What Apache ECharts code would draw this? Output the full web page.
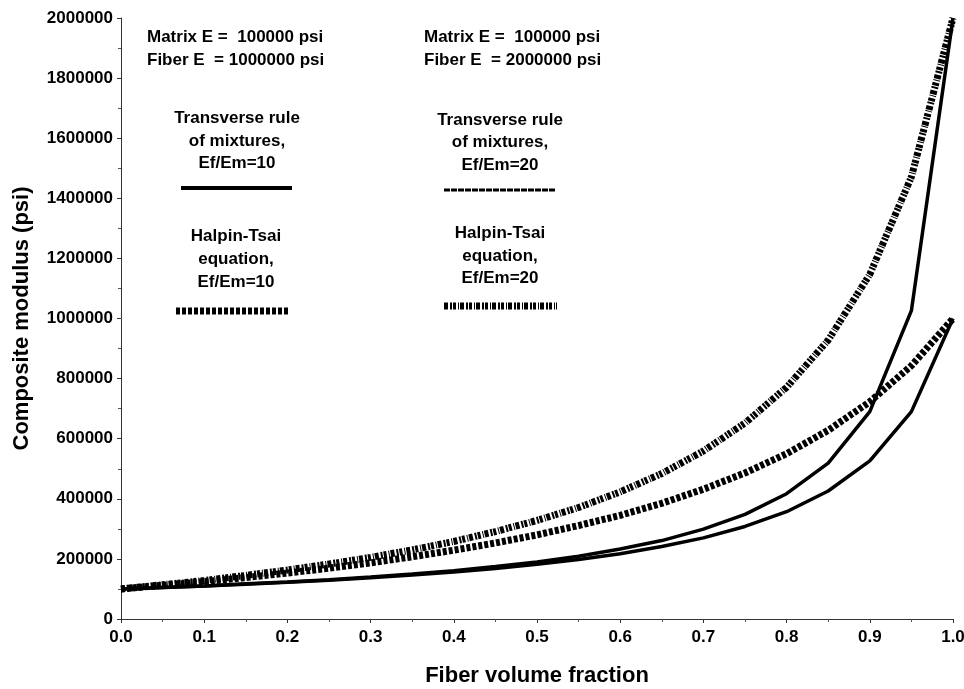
<!DOCTYPE html>
<html>
<head>
<meta charset="utf-8">
<script src="https://cdn.jsdelivr.net/npm/echarts@6/dist/echarts.min.js"></script>
<style>
  html, body { margin: 0; padding: 0; background: #fff; }
  #chart { width: 964px; height: 689px; }
</style>
</head>
<body>
<div id="chart"></div>
<script>
// fiber volume fraction
var vf = [0, 0.05, 0.1, 0.15, 0.2, 0.25, 0.3, 0.35, 0.4, 0.45, 0.5,
          0.55, 0.6, 0.65, 0.7, 0.75, 0.8, 0.85, 0.9, 0.95, 1.0];
// transverse rule of mixtures
var rom10 = [100000, 105000, 110000, 116000, 122000, 129000, 137000, 146000, 156000, 168000, 182000,
             198000, 217000, 241000, 270000, 308000, 357000, 426000, 526000, 690000, 1000000];
var rom20 = [100000, 105000, 110000, 117000, 123000, 131000, 140000, 150000, 161000, 175000, 190000,
             209000, 233000, 261000, 299000, 348000, 417000, 519000, 690000, 1026000, 2000000];
// halpin-tsai
var ht10 = [100000, 112000, 124000, 138000, 153000, 169000, 187000, 207000, 229000, 253000, 280000,
            311000, 345000, 385000, 432000, 486000, 550000, 628000, 723000, 843000, 1000000];
var ht20 = [100000, 114000, 128000, 145000, 163000, 183000, 205000, 230000, 258000, 291000, 328000,
            371000, 423000, 484000, 559000, 652000, 771000, 928000, 1147000, 1471000, 2000000];

var noteLeft = ['Matrix E =  100000 psi', 'Fiber E  = 1000000 psi'];
var noteRight = ['Matrix E =  100000 psi', 'Fiber E  = 2000000 psi'];

var FONT = '"Liberation Sans", Arial, sans-serif';
var dashHT10 = [4, 2];
var dashHT20 = [4, 2, 2, 1, 3, 2, 1, 1];
var dashROM20 = [6, 1];

function pairs(ys) {
    return vf.map(function (x, i) { return [x, ys[i]]; });
}

function txt(s, x, y, align) {
    return {
        type: 'text', x: x, y: y,
        style: {
            text: s, textAlign: align || 'center', textVerticalAlign: 'middle',
            font: 'bold 17px ' + FONT, fill: '#000'
        }
    };
}
function seg(x1, x2, y, w, dash) {
    return {
        type: 'line',
        shape: { x1: x1, y1: y, x2: x2, y2: y },
        style: { stroke: '#000', lineWidth: w, lineDash: dash || null }
    };
}

var chartDom = document.getElementById('chart');
var myChart = echarts.init(chartDom, null, {renderer: 'canvas'});

var option = {
    animation: false,
    backgroundColor: '#fff',
    grid: { left: 121, right: 11, top: 18, bottom: 70, containLabel: false, outerBoundsMode: 'none' },
    xAxis: {
        type: 'value', min: 0, max: 1, interval: 0.1,
        name: 'Fiber volume fraction', nameLocation: 'middle', nameGap: 46,
        nameTextStyle: { fontFamily: FONT, fontWeight: 'bold', fontSize: 22, color: '#000' },
        axisLine: { lineStyle: { color: '#333', width: 1 } },
        axisTick: { inside: false, length: 4, lineStyle: { color: '#333' } },
        minorTick: { show: true, splitNumber: 2, length: 3, lineStyle: { color: '#555' } },
        splitLine: { show: false },
        axisLabel: {
            fontFamily: FONT, fontWeight: 'bold', fontSize: 17, color: '#000', margin: 10,
            formatter: function (v) { return v.toFixed(1); }
        }
    },
    yAxis: {
        type: 'value', min: 0, max: 2000000, interval: 200000,
        name: 'Composite modulus (psi)', nameLocation: 'middle', nameGap: 88,
        nameTextStyle: { fontFamily: FONT, fontWeight: 'bold', fontSize: 22, color: '#000' },
        axisLine: { show: true, lineStyle: { color: '#333', width: 1 } },
        axisTick: { show: true, length: 4, lineStyle: { color: '#333' } },
        minorTick: { show: true, splitNumber: 2, length: 3, lineStyle: { color: '#555' } },
        splitLine: { show: false },
        axisLabel: {
            fontFamily: FONT, fontWeight: 'bold', fontSize: 17, color: '#000', margin: 8,
            formatter: function (v) { return String(v); }
        }
    },
    series: [
        {
            name: 'Halpin-Tsai, Ef/Em=20', type: 'line', data: pairs(ht20), showSymbol: false,
            lineStyle: { color: '#000', width: 7, type: dashHT20 }
        },
        {
            name: 'Halpin-Tsai, Ef/Em=10', type: 'line', data: pairs(ht10), showSymbol: false,
            lineStyle: { color: '#000', width: 7, type: dashHT10 }
        },
        {
            name: 'Transverse ROM, Ef/Em=20', type: 'line', data: pairs(rom20), showSymbol: false,
            lineStyle: { color: '#000', width: 3.5 }
        },
        {
            name: 'Transverse ROM, Ef/Em=10', type: 'line', data: pairs(rom10), showSymbol: false,
            lineStyle: { color: '#000', width: 3.5 }
        }
    ],
    graphic: [
        txt(noteLeft[0], 147, 37, 'left'),
        txt(noteLeft[1], 147, 60, 'left'),
        txt(noteRight[0], 424, 37, 'left'),
        txt(noteRight[1], 424, 60, 'left'),

        txt('Transverse rule', 237, 118),
        txt('of mixtures,', 237, 141),
        txt('Ef/Em=10', 237, 163),
        seg(181, 292, 188, 4),

        txt('Halpin-Tsai', 236, 236),
        txt('equation,', 236, 259),
        txt('Ef/Em=10', 236, 282),
        seg(176, 288, 311, 7, dashHT10),

        txt('Transverse rule', 500, 120),
        txt('of mixtures,', 500, 142),
        txt('Ef/Em=20', 500, 165),
        seg(444, 555, 190, 3, dashROM20),

        txt('Halpin-Tsai', 500, 233),
        txt('equation,', 500, 256),
        txt('Ef/Em=20', 500, 278),
        seg(444, 557, 306, 7, dashHT20)
    ]
};

option && myChart.setOption(option);
</script>
</body>
</html>
